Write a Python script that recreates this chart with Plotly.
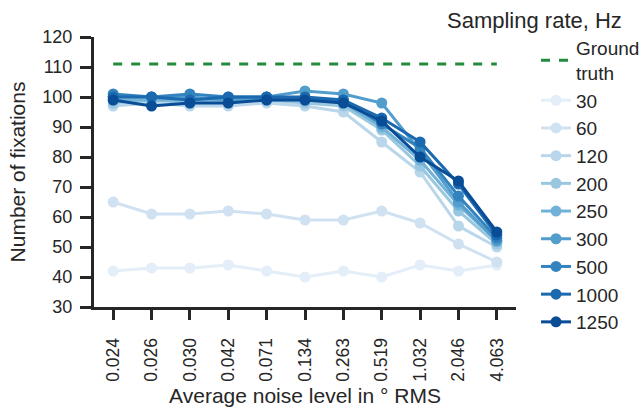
import plotly.graph_objects as go

noise_levels = ["0.024", "0.026", "0.030", "0.042", "0.071", "0.134",
                "0.263", "0.519", "1.032", "2.046", "4.063"]
ground_truth = 111

rates = ["30", "60", "120", "200", "250", "300", "500", "1000", "1250"]
fix_30 = [42, 43, 43, 44, 42, 40, 42, 40, 44, 42, 44]
fix_60 = [65, 61, 61, 62, 61, 59, 59, 62, 58, 51, 45]
fix_120 = [97, 98, 97, 97, 98, 97, 95, 85, 75, 57, 50]
fix_200 = [98, 99, 98, 98, 99, 98, 97, 89, 77, 62, 51]
fix_250 = [99, 99, 99, 99, 99, 99, 98, 90, 79, 64, 52]
fix_300 = [100, 100, 100, 99, 100, 102, 101, 98, 82, 65, 52]
fix_500 = [101, 100, 101, 100, 100, 99, 99, 91, 83, 67, 53]
fix_1000 = [100, 100, 99, 100, 100, 100, 99, 93, 85, 71, 54]
fix_1250 = [99, 97, 98, 98, 99, 99, 98, 92, 80, 72, 55]
series = [fix_30, fix_60, fix_120, fix_200, fix_250, fix_300, fix_500, fix_1000, fix_1250]

blues = ["#e3eef9", "#d0e1f2", "#b9d6ea", "#99c7e0", "#73b2d8",
         "#529dcc", "#3383be", "#1b69af", "#084d96"]

text_col = "#262626"
font = "Liberation Sans, Arial, sans-serif"

fig = go.Figure()

fig.add_trace(go.Scatter(
    x=noise_levels, y=[ground_truth] * len(noise_levels),
    mode="lines", name="Ground<br>truth",
    line=dict(color="#238b3e", width=3, dash="dash"),
))

for rate, vals, col in zip(rates, series, blues):
    fig.add_trace(go.Scatter(
        x=noise_levels, y=vals, mode="lines+markers", name=rate,
        line=dict(color=col, width=3),
        marker=dict(color=col, size=11),
    ))

# legend heading, right-aligned above the entries
fig.add_annotation(
    text="Sampling rate, Hz", xref="paper", yref="paper",
    x=(624 - 94) / 422, y=1 + (37 - 20) / 270,
    xanchor="right", yanchor="middle", showarrow=False,
    font=dict(size=22, color=text_col),
)

fig.update_layout(
    width=644, height=414,
    margin=dict(l=94, r=128, t=37, b=107, autoexpand=False),
    plot_bgcolor="white", paper_bgcolor="white",
    font=dict(family=font, size=18, color=text_col),
    showlegend=True,
    legend=dict(
        x=(536 - 94) / 422, y=1 + (37 - 29) / 270, xanchor="left", yanchor="top",
        font=dict(size=19),
        tracegroupgap=0,
        maxheight=400,
        bgcolor="rgba(0,0,0,0)",
    ),
    xaxis=dict(
        type="category", range=[-0.5, 10.5],
        showline=True, linecolor=text_col, linewidth=3,
        ticks="outside", ticklen=10, tickwidth=2.5, tickcolor=text_col,
        tickangle=-90, showgrid=False, zeroline=False,
        tickfont=dict(size=17.5), ticklabelstandoff=11,
        title=dict(text="Average noise level in \u00b0 RMS", font=dict(size=21), standoff=8),
    ),
    yaxis=dict(
        range=[30, 120], dtick=10,
        showline=True, linecolor=text_col, linewidth=3,
        ticks="outside", ticklen=11, tickwidth=2.5, tickcolor=text_col,
        showgrid=False, zeroline=False,
        tickfont=dict(size=18), ticklabelstandoff=4,
        title=dict(text="Number of fixations", font=dict(size=21), standoff=12),
    ),
)

fig.write_html("out.html")
